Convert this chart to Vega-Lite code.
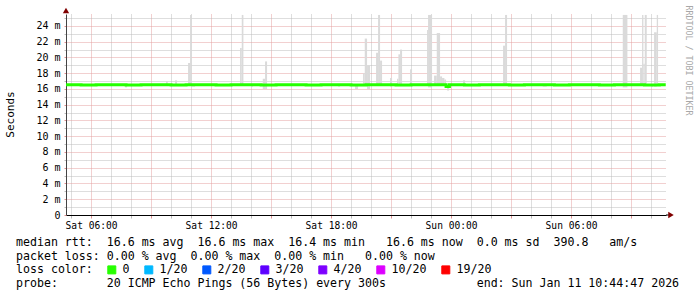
{
  "$schema": "https://vega.github.io/schema/vega-lite/v6.json",
  "width": 600,
  "height": 201,
  "autosize": {"type": "none"},
  "padding": {"left": 66, "top": 14, "right": 31, "bottom": 82},
  "background": "#ffffff",
  "config": {"view": {"stroke": null}, "font": "DejaVu Sans Mono"},
  "title": {
    "text": [
      "median\u00a0rtt:\u00a0\u00a016.6\u00a0ms\u00a0avg\u00a0\u00a016.6\u00a0ms\u00a0max\u00a0\u00a016.4\u00a0ms\u00a0min\u00a0\u00a0\u00a016.6\u00a0ms\u00a0now\u00a0\u00a00.0\u00a0ms\u00a0sd\u00a0\u00a0390.8\u00a0\u00a0\u00a0am/s",
      "packet\u00a0loss:\u00a00.00\u00a0%\u00a0avg\u00a0\u00a00.00\u00a0%\u00a0max\u00a0\u00a00.00\u00a0%\u00a0min\u00a0\u00a0\u00a00.00\u00a0%\u00a0now",
      "loss\u00a0color:",
      "probe:\u00a0\u00a0\u00a0\u00a0\u00a0\u00a0\u00a020\u00a0ICMP\u00a0Echo\u00a0Pings\u00a0(56\u00a0Bytes)\u00a0every\u00a0300s\u00a0\u00a0\u00a0\u00a0\u00a0\u00a0\u00a0\u00a0\u00a0\u00a0\u00a0\u00a0\u00a0end:\u00a0Sun\u00a0Jan\u00a011\u00a010:44:47\u00a02026"
    ],
    "orient": "bottom",
    "anchor": "start",
    "frame": "group",
    "align": "left",
    "font": "DejaVu Sans Mono",
    "fontSize": 11.6,
    "fontWeight": "normal",
    "color": "#000000",
    "lineHeight": 13.7,
    "dx": -50,
    "dy": -45,
    "offset": 6
  },
  "datasets": {
    "smoke": [
      {"h": 7.7, "h2": 7.8, "lo": 16.2, "hi": 16.6},
      {"h": 9.75, "h2": 9.8333, "lo": 16.5, "hi": 17.0},
      {"h": 10.2, "h2": 10.3, "lo": 16.5, "hi": 17.1},
      {"h": 10.85, "h2": 10.95, "lo": 16.5, "hi": 19.3},
      {"h": 10.95, "h2": 11.0333, "lo": 16.5, "hi": 25.4},
      {"h": 11.05, "h2": 11.2, "lo": 16.3, "hi": 16.6},
      {"h": 13.45, "h2": 13.5333, "lo": 16.5, "hi": 21.2},
      {"h": 13.5333, "h2": 13.6167, "lo": 16.5, "hi": 25.4},
      {"h": 14.0333, "h2": 14.1, "lo": 16.3, "hi": 16.6},
      {"h": 14.5833, "h2": 14.7, "lo": 16.0, "hi": 17.3},
      {"h": 14.7, "h2": 14.8, "lo": 16.0, "hi": 19.5},
      {"h": 18.35, "h2": 18.45, "lo": 16.3, "hi": 16.6},
      {"h": 19.2, "h2": 19.35, "lo": 16.0, "hi": 16.6},
      {"h": 19.6, "h2": 19.6833, "lo": 16.5, "hi": 18.0},
      {"h": 19.6833, "h2": 19.8, "lo": 16.5, "hi": 22.4},
      {"h": 19.8, "h2": 19.95, "lo": 16.0, "hi": 19.0},
      {"h": 20.25, "h2": 20.35, "lo": 16.5, "hi": 20.6},
      {"h": 20.35, "h2": 20.45, "lo": 16.5, "hi": 25.4},
      {"h": 20.45, "h2": 20.55, "lo": 16.5, "hi": 19.6},
      {"h": 20.95, "h2": 21.05, "lo": 16.3, "hi": 17.4},
      {"h": 21.3, "h2": 21.3667, "lo": 16.5, "hi": 17.3},
      {"h": 21.3667, "h2": 21.45, "lo": 16.5, "hi": 20.4},
      {"h": 21.45, "h2": 21.55, "lo": 16.5, "hi": 21.0},
      {"h": 21.95, "h2": 22.05, "lo": 16.5, "hi": 18.5},
      {"h": 22.8, "h2": 22.85, "lo": 16.5, "hi": 23.5},
      {"h": 22.85, "h2": 23.05, "lo": 16.2, "hi": 25.4},
      {"h": 23.15, "h2": 23.2833, "lo": 16.5, "hi": 17.7},
      {"h": 23.2833, "h2": 23.45, "lo": 16.5, "hi": 23.1},
      {"h": 23.45, "h2": 23.55, "lo": 16.5, "hi": 17.6},
      {"h": 23.55, "h2": 23.6667, "lo": 16.5, "hi": 17.4},
      {"h": 23.6667, "h2": 23.75, "lo": 16.5, "hi": 17.2},
      {"h": 23.8, "h2": 23.9, "lo": 15.8, "hi": 16.6},
      {"h": 24.6, "h2": 24.7, "lo": 16.5, "hi": 17.1},
      {"h": 26.6, "h2": 26.7, "lo": 16.5, "hi": 21.5},
      {"h": 26.7, "h2": 26.8, "lo": 16.5, "hi": 25.4},
      {"h": 28.5833, "h2": 28.7833, "lo": 16.3, "hi": 16.6},
      {"h": 32.5833, "h2": 32.8167, "lo": 16.2, "hi": 25.4},
      {"h": 33.45, "h2": 33.55, "lo": 16.5, "hi": 18.7},
      {"h": 33.55, "h2": 33.6167, "lo": 16.5, "hi": 25.4},
      {"h": 33.6167, "h2": 33.6833, "lo": 16.5, "hi": 19.2},
      {"h": 33.6833, "h2": 33.7833, "lo": 16.5, "hi": 25.4},
      {"h": 34.0, "h2": 34.1, "lo": 16.3, "hi": 16.6},
      {"h": 34.15, "h2": 34.2833, "lo": 16.3, "hi": 23.2},
      {"h": 34.2833, "h2": 34.35, "lo": 16.5, "hi": 25.4}
    ],
    "median": [
      {"h": 4.75, "v": 16.55, "loss": "0"},
      {"h": 5.5, "v": 16.5, "loss": "0"},
      {"h": 6.25, "v": 16.55, "loss": "0"},
      {"h": 7.0, "v": 16.55, "loss": "0"},
      {"h": 7.75, "v": 16.5, "loss": "0"},
      {"h": 8.5, "v": 16.55, "loss": "0"},
      {"h": 9.25, "v": 16.55, "loss": "0"},
      {"h": 10.0, "v": 16.5, "loss": "0"},
      {"h": 10.75, "v": 16.55, "loss": "0"},
      {"h": 11.5, "v": 16.55, "loss": "0"},
      {"h": 12.25, "v": 16.5, "loss": "0"},
      {"h": 13.0, "v": 16.55, "loss": "0"},
      {"h": 13.75, "v": 16.55, "loss": "0"},
      {"h": 14.5, "v": 16.5, "loss": "0"},
      {"h": 15.25, "v": 16.55, "loss": "0"},
      {"h": 16.0, "v": 16.55, "loss": "0"},
      {"h": 16.75, "v": 16.5, "loss": "0"},
      {"h": 17.5, "v": 16.55, "loss": "0"},
      {"h": 18.25, "v": 16.55, "loss": "0"},
      {"h": 19.0, "v": 16.5, "loss": "0"},
      {"h": 19.75, "v": 16.55, "loss": "0"},
      {"h": 20.5, "v": 16.55, "loss": "0"},
      {"h": 21.25, "v": 16.5, "loss": "0"},
      {"h": 22.0, "v": 16.55, "loss": "0"},
      {"h": 22.75, "v": 16.55, "loss": "0"},
      {"h": 23.5, "v": 16.55, "loss": "0"},
      {"h": 23.75, "v": 16.3, "loss": "0"},
      {"h": 23.9167, "v": 16.55, "loss": "0"},
      {"h": 24.6667, "v": 16.5, "loss": "0"},
      {"h": 25.4167, "v": 16.55, "loss": "0"},
      {"h": 26.1667, "v": 16.55, "loss": "0"},
      {"h": 26.9167, "v": 16.5, "loss": "0"},
      {"h": 27.6667, "v": 16.55, "loss": "0"},
      {"h": 28.4167, "v": 16.55, "loss": "0"},
      {"h": 29.1667, "v": 16.5, "loss": "0"},
      {"h": 29.9167, "v": 16.55, "loss": "0"},
      {"h": 30.6667, "v": 16.55, "loss": "0"},
      {"h": 31.4167, "v": 16.5, "loss": "0"},
      {"h": 32.1667, "v": 16.55, "loss": "0"},
      {"h": 32.9167, "v": 16.55, "loss": "0"},
      {"h": 33.6667, "v": 16.5, "loss": "0"},
      {"h": 34.4167, "v": 16.55, "loss": "0"},
      {"h": 34.7333, "v": 16.55, "loss": "0"}
    ]
  },
  "resolve": {"axis": {"x": "independent", "y": "independent"}},
  "layer": [
    {
      "data": {"name": "smoke"},
      "mark": {"type": "rect", "color": "#dadada"},
      "encoding": {
        "x": {
          "field": "h", "type": "quantitative",
          "scale": {"domain": [4.7464, 34.7464], "nice": false, "zero": false},
          "axis": {
            "orient": "bottom",
            "title": null,
            "values": [5,6,7,8,9,10,11,12,13,14,15,16,17,18,19,20,21,22,23,24,25,26,27,28,29,30,31,32,33,34],
            "labelExpr": "datum.value % 6 !== 0 ? '' : ((datum.value < 24 ? 'Sat ' : 'Sun ') + (datum.value % 24 < 10 ? '0' : '') + (datum.value % 24) + ':00')",
            "labelOverlap": false,
            "labelFlush": false,
            "labelFont": "DejaVu Sans Mono",
            "labelFontSize": 9.6,
            "labelColor": "#000000",
            "labelPadding": 2,
            "tickSize": 3,
            "tickColor": {"condition": {"test": "datum.value % 3 === 0", "value": "#e09090"}, "value": "#bbbbbb"},
            "grid": true,
            "gridDash": [1, 1],
            "gridColor": {"condition": {"test": "datum.value % 3 === 0", "value": "#e4a0a0"}, "value": "#bdbdbd"},
            "domainColor": "#000000",
            "domainWidth": 1
          }
        },
        "x2": {"field": "h2"},
        "y": {
          "field": "lo", "type": "quantitative",
          "scale": {"domain": [0, 25.52], "nice": false, "zero": false},
          "axis": {
            "orient": "left",
            "title": "Seconds",
            "titleFont": "DejaVu Sans Mono",
            "titleFontSize": 11,
            "titleFontWeight": "normal",
            "titleColor": "#000000",
            "titleAngle": 270,
            "titleAlign": "center",
            "titleBaseline": "middle",
            "titleX": -56,
            "titleY": 100,
            "values": [0,1,2,3,4,5,6,7,8,9,10,11,12,13,14,15,16,17,18,19,20,21,22,23,24,25],
            "labelExpr": "datum.value % 2 !== 0 ? '' : (datum.value === 0 ? '0' : datum.value + ' m')",
            "labelOverlap": false,
            "labelFlush": false,
            "labelFont": "DejaVu Sans Mono",
            "labelFontSize": 10,
            "labelColor": "#000000",
            "labelPadding": 4,
            "tickSize": 2,
            "tickColor": {"condition": {"test": "datum.value % 2 === 0", "value": "#e09090"}, "value": "#bbbbbb"},
            "grid": true,
            "gridDash": [1, 1],
            "gridColor": {"condition": {"test": "datum.value % 2 === 0", "value": "#e4a0a0"}, "value": "#bdbdbd"},
            "domainColor": "#444444",
            "domainWidth": 1
          }
        },
        "y2": {"field": "hi"}
      }
    },
    {
      "data": {"name": "median"},
      "mark": {"type": "line", "interpolate": "step-after", "strokeWidth": 3, "strokeCap": "butt"},
      "encoding": {
        "x": {"field": "h", "type": "quantitative", "axis": null,
          "scale": {"domain": [4.7464, 34.7464], "nice": false, "zero": false}},
        "y": {
          "field": "v", "type": "quantitative",
          "scale": {"domain": [0, 25.52], "nice": false, "zero": false},
          "axis": {
            "orient": "right",
            "domain": false, "ticks": false, "labels": false, "grid": false,
            "title": "RRDTOOL / TOBI OETIKER",
            "titleFont": "DejaVu Sans Mono",
            "titleFontSize": 8.3,
            "titleFontWeight": "normal",
            "titleColor": "#a8a8a8",
            "titleAngle": 90,
            "titleAlign": "left",
            "titleBaseline": "middle",
            "titleX": 21,
            "titleY": -9
          }
        },
        "color": {
          "field": "loss", "type": "nominal",
          "scale": {
            "domain": ["0", "1/20", "2/20", "3/20", "4/20", "10/20", "19/20"],
            "range": ["#26ff00", "#00b8ff", "#0059ff", "#5e00ff", "#7e00ff", "#dd00ff", "#ff0000"]
          },
          "legend": {
            "orient": "none",
            "legendX": 40,
            "legendY": 250,
            "direction": "horizontal",
            "columns": 7,
            "title": null,
            "padding": 0,
            "symbolType": "square",
            "symbolSize": 64,
            "symbolStrokeColor": "#000000",
            "symbolStrokeWidth": 1,
            "labelFont": "DejaVu Sans Mono",
            "labelFontSize": 11.6,
            "labelColor": "#000000",
            "labelOffset": 5,
            "columnPadding": 12,
            "encode": {
              "symbols": {
                "update": {
                  "fill": {"scale": "color", "field": "value"},
                  "fillOpacity": {"value": 1},
                  "stroke": {"value": "#000000"},
                  "strokeWidth": {"value": 1},
                  "shape": {"value": "square"},
                  "size": {"value": 64}
                }
              }
            }
          }
        }
      }
    },
    {
      "data": {"values": [{}]},
      "mark": {"type": "rule", "color": "#000000", "strokeWidth": 1},
      "encoding": {
        "x": {"datum": 34.7464, "type": "quantitative", "axis": null,
          "scale": {"domain": [4.7464, 34.7464], "nice": false, "zero": false}},
        "x2": {"datum": 34.95},
        "y": {"datum": 0, "type": "quantitative", "axis": null, "scale": {"domain": [0, 25.52], "nice": false, "zero": false}}
      }
    },
    {
      "data": {"values": [{}]},
      "mark": {"type": "point", "shape": "triangle-right", "filled": true, "color": "#800000", "size": 40, "opacity": 1},
      "encoding": {
        "x": {"datum": 34.9964, "type": "quantitative", "axis": null,
          "scale": {"domain": [4.7464, 34.7464], "nice": false, "zero": false}},
        "y": {"datum": 0, "type": "quantitative", "axis": null, "scale": {"domain": [0, 25.52], "nice": false, "zero": false}}
      }
    },
    {
      "data": {"values": [{}]},
      "mark": {"type": "point", "shape": "triangle-up", "filled": true, "color": "#800000", "size": 40, "opacity": 1},
      "encoding": {
        "x": {"datum": 4.7464, "type": "quantitative", "axis": null,
          "scale": {"domain": [4.7464, 34.7464], "nice": false, "zero": false}},
        "y": {"datum": 25.97, "type": "quantitative", "axis": null, "scale": {"domain": [0, 25.52], "nice": false, "zero": false}}
      }
    }
  ]
}
